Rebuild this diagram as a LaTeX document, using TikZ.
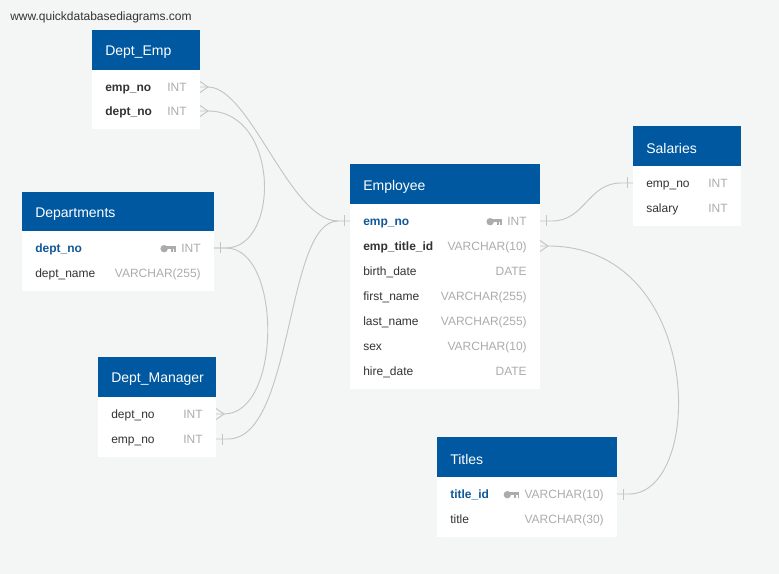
\documentclass[tikz,border=0pt]{standalone}
\usepackage{fontspec}
\setmainfont{Liberation Sans}
\usetikzlibrary{calc}
\definecolor{bgc}{RGB}{244,245,245}
\definecolor{hdr}{RGB}{0,88,160}
\definecolor{pkc}{RGB}{16,88,152}
\definecolor{txt}{RGB}{51,51,51}
\definecolor{typ}{RGB}{172,172,172}
\definecolor{connc}{RGB}{196,196,196}
\newcommand{\dbtable}[7]{%
  \fill[hdr] (#2,#3) rectangle (#4,#5);
  \fill[white] (#2,#5) rectangle (#4,#6);
  \node[hdrtext] (#1) at ({#2+13},{(#3+#5)/2+2.5}) {#7};
}
\newcommand{\dbfield}[7]{%
  \node[fname,#7] (#1-n) at ({#2+13},{#4+1}) {#5};
  \node[ftype] (#1-t) at ({#3-13},{#4+1}) {#6};
  \coordinate (#1-L) at (#2,#4);
  \coordinate (#1-R) at (#3,#4);
}
\newcommand{\keyicon}[1]{%
  \begin{scope}[shift={(#1.west)}]
    \fill[typ] (-17,-0.3) circle [radius=3.7];
    \fill[typ] (-14,-2.6) rectangle (-5,0.2);
    \fill[typ] (-10.2,0.2) rectangle (-8.4,3.2);
    \fill[typ] (-6.8,0.2) rectangle (-5,3.2);
  \end{scope}}
\newcommand{\manyR}[1]{\draw[connline] ($(#1)+(0,-5.5)$) -- ($(#1)+(8,0)$) -- ($(#1)+(0,5.5)$);}
\newcommand{\oneR}[1]{\draw[connline] ($(#1)+(6,-5.5)$) -- ($(#1)+(6,5.5)$);}
\newcommand{\oneL}[1]{\draw[connline] ($(#1)+(-6,-5.5)$) -- ($(#1)+(-6,5.5)$);}
\begin{document}
\begin{tikzpicture}[x=0.75pt,y=-0.75pt,
  hdrtext/.style={anchor=west,inner sep=0,text=white,font=\fontsize{10.5}{12}\selectfont},
  fname/.style={anchor=west,inner sep=0,text=txt,text height=6.5pt,text depth=1.8pt,font=\fontsize{9}{11}\selectfont},
  ftype/.style={anchor=east,inner sep=0,text=typ,text height=6.5pt,text depth=1.8pt,font=\fontsize{9}{11}\selectfont},
  fk/.style={font=\fontsize{9}{11}\selectfont\bfseries},
  pk/.style={font=\fontsize{9}{11}\selectfont\bfseries,text=pkc},
  plain/.style={},
  connline/.style={draw=connc,line width=0.7pt}]
\useasboundingbox (0,0) rectangle (779,574);
\fill[bgc] (0,0) rectangle (779,574);
\node[anchor=west,inner sep=0,text=txt,font=\fontsize{9}{11}\selectfont] (wm) at (10,17) {www.quickdatabasediagrams.com};

% Dept_Emp
\dbtable{DE}{92}{30}{200}{70}{129}{Dept\_Emp}
\dbfield{DE1}{92}{200}{87}{emp\_no}{INT}{fk}
\dbfield{DE2}{92}{200}{111}{dept\_no}{INT}{fk}

% Departments
\dbtable{D}{22}{192}{214}{231}{291}{Departments}
\dbfield{D1}{22}{214}{248}{dept\_no}{INT}{pk}
\dbfield{D2}{22}{214}{273}{dept\_name}{VARCHAR(255)}{plain}
\keyicon{D1-t}

% Dept_Manager
\dbtable{DM}{98}{357}{216}{397}{457}{Dept\_Manager}
\dbfield{DM1}{98}{216}{414}{dept\_no}{INT}{plain}
\dbfield{DM2}{98}{216}{439}{emp\_no}{INT}{plain}

% Employee
\dbtable{E}{350}{164}{540}{204}{389}{Employee}
\dbfield{E1}{350}{540}{221}{emp\_no}{INT}{pk}
\dbfield{E2}{350}{540}{246}{emp\_title\_id}{VARCHAR(10)}{fk}
\dbfield{E3}{350}{540}{271}{birth\_date}{DATE}{plain}
\dbfield{E4}{350}{540}{296}{first\_name}{VARCHAR(255)}{plain}
\dbfield{E5}{350}{540}{321}{last\_name}{VARCHAR(255)}{plain}
\dbfield{E6}{350}{540}{346}{sex}{VARCHAR(10)}{plain}
\dbfield{E7}{350}{540}{371}{hire\_date}{DATE}{plain}
\keyicon{E1-t}

% Salaries
\dbtable{S}{633}{126}{741}{166}{226}{Salaries}
\dbfield{S1}{633}{741}{183}{emp\_no}{INT}{plain}
\dbfield{S2}{633}{741}{208}{salary}{INT}{plain}

% Titles
\dbtable{T}{437}{437}{617}{477}{537}{Titles}
\dbfield{T1}{437}{617}{494}{title\_id}{VARCHAR(10)}{pk}
\dbfield{T2}{437}{617}{519}{title}{VARCHAR(30)}{plain}
\keyicon{T1-t}

% connectors
% Dept_Emp.emp_no -> Employee.emp_no
\draw[connline] (DE1-R) -- ($(DE1-R)+(8,0)$) .. controls ($(DE1-R)+(50,0)$) and ($(E1-L)+(-60,0)$) .. ($(E1-L)+(-12,0)$) -- (E1-L);
\manyR{DE1-R}
% Dept_Emp.dept_no -> Departments.dept_no
\draw[connline] (DE2-R) -- ($(DE2-R)+(8,0)$) .. controls ($(DE2-R)+(80,0)$) and ($(D1-R)+(66,0)$) .. ($(D1-R)+(12,0)$) -- (D1-R);
\manyR{DE2-R}
% Departments.dept_no -> Dept_Manager.dept_no
\draw[connline] (D1-R) -- ($(D1-R)+(12,0)$) .. controls ($(D1-R)+(68,0)$) and ($(DM1-R)+(66,0)$) .. ($(DM1-R)+(8,0)$) -- (DM1-R);
\oneR{D1-R}
\manyR{DM1-R}
% Dept_Manager.emp_no -> Employee.emp_no
\draw[connline] (DM2-R) -- ($(DM2-R)+(12,0)$) .. controls ($(DM2-R)+(78,0)$) and ($(E1-L)+(-65,0)$) .. ($(E1-L)+(-12,0)$);
\oneR{DM2-R}
\oneL{E1-L}
% Employee.emp_no -> Salaries.emp_no
\draw[connline] (E1-R) -- ($(E1-R)+(12,0)$) .. controls ($(E1-R)+(45,0)$) and ($(S1-L)+(-45,0)$) .. ($(S1-L)+(-12,0)$) -- (S1-L);
\oneR{E1-R}
\oneL{S1-L}
% Employee.emp_title_id -> Titles.title_id
\draw[connline] (E2-R) -- ($(E2-R)+(8,0)$) .. controls ($(E2-R)+(165,0)$) and ($(T1-R)+(88,0)$) .. ($(T1-R)+(12,0)$) -- (T1-R);
\manyR{E2-R}
\oneR{T1-R}
\end{tikzpicture}
\end{document}
